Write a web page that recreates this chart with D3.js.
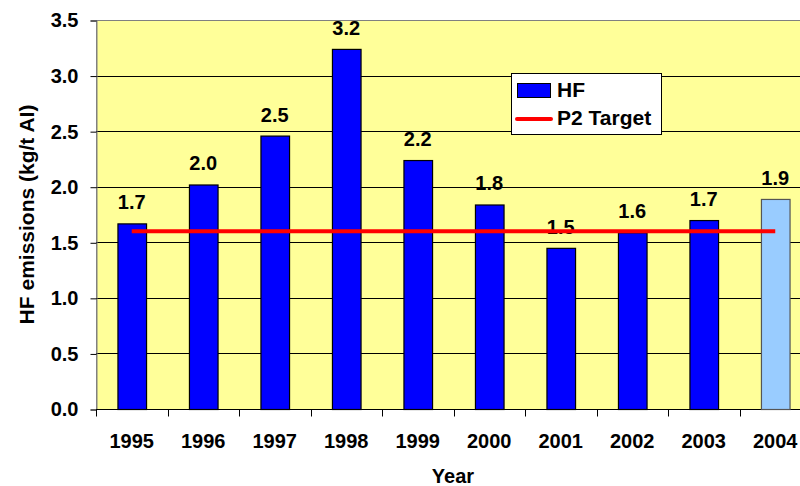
<!DOCTYPE html>
<html>
<head>
<meta charset="utf-8">
<script src="https://cdn.jsdelivr.net/npm/d3@7"></script>
<style>
  body { margin: 0; background: #fff; }
  svg { display: block; font-family: "Liberation Sans", Arial, sans-serif; font-weight: bold; }
</style>
</head>
<body>
<div id="chart"></div>
<script>
// HF emissions by year, with the P2 target line
const years = ['1995', '1996', '1997', '1998', '1999', '2000', '2001', '2002', '2003', '2004'];
const hfValues = [1.67, 2.02, 2.46, 3.24, 2.24, 1.84, 1.45, 1.59, 1.70, 1.89];
const hfLabels = ['1.7', '2.0', '2.5', '3.2', '2.2', '1.8', '1.5', '1.6', '1.7', '1.9'];
const targetValues = [1.6, 1.6, 1.6, 1.6, 1.6, 1.6, 1.6, 1.6, 1.6, 1.6];
const yTicks = [0, 0.5, 1.0, 1.5, 2.0, 2.5, 3.0, 3.5];
const highlightYear = '2004';

const width = 800, height = 486;
const margin = { top: 20, right: -11, bottom: 77, left: 96 };

const svg = d3.select('#chart')
    .append('svg')
    .attr('width', width)
    .attr('height', height);

const x = d3.scaleBand()
    .domain(years)
    .range([margin.left, width - margin.right])
    .paddingInner(0.6)
    .paddingOuter(0.3);

const y = d3.scaleLinear()
    .domain([0, 3.5])
    .range([height - margin.bottom, margin.top]);

const plotRight = width - margin.right;
const plotBottom = height - margin.bottom;

// plot background
svg.append('rect')
    .attr('x', margin.left + 0.5)
    .attr('y', margin.top + 0.5)
    .attr('width', plotRight - margin.left)
    .attr('height', plotBottom - margin.top)
    .attr('fill', '#FFFF99')
    .attr('stroke', '#808080')
    .attr('stroke-width', 1);

// gridlines
svg.append('g')
    .selectAll('line')
    .data(yTicks.filter(d => d > 0 && d < 3.5))
    .join('line')
    .attr('x1', margin.left)
    .attr('x2', plotRight)
    .attr('y1', d => Math.round(y(d)) + 0.5)
    .attr('y2', d => Math.round(y(d)) + 0.5)
    .attr('stroke', '#000')
    .attr('stroke-width', 1);

// y axis
const yAxis = svg.append('g')
    .attr('transform', `translate(${margin.left + 0.5},0.5)`)
    .call(d3.axisLeft(y).tickValues(yTicks).tickFormat(d3.format('.1f')).tickSize(6).tickPadding(12));
yAxis.select('.domain').attr('stroke', '#808080');
yAxis.selectAll('.tick line').attr('stroke', '#000');
yAxis.selectAll('.tick text')
    .attr('font-size', '20px')
    .attr('font-family', '"Liberation Sans", Arial, sans-serif')
    .attr('font-weight', 'bold')
    .attr('fill', '#000');

// x axis: ticks between categories
const xAxis = svg.append('g')
    .attr('transform', `translate(0,${plotBottom + 0.5})`);
xAxis.append('line')
    .attr('x1', margin.left)
    .attr('x2', plotRight)
    .attr('stroke', '#000');
xAxis.selectAll('.tick')
    .data(years)
    .join('line')
    .attr('class', 'tick')
    .attr('x1', d => Math.round(x(d) - x.step() * 0.3) + 0.5)
    .attr('x2', d => Math.round(x(d) - x.step() * 0.3) + 0.5)
    .attr('y1', 0)
    .attr('y2', 7)
    .attr('stroke', '#000');
xAxis.selectAll('text')
    .data(years)
    .join('text')
    .attr('x', d => x(d) + x.bandwidth() / 2)
    .attr('y', 38)
    .attr('text-anchor', 'middle')
    .attr('font-size', '20px')
    .attr('fill', '#000')
    .text(d => d);

// bars
svg.append('g')
    .selectAll('rect')
    .data(years)
    .join('rect')
    .attr('x', d => x(d) + 0.5)
    .attr('y', (d, i) => y(hfValues[i]) + 0.5)
    .attr('width', x.bandwidth())
    .attr('height', (d, i) => plotBottom - y(hfValues[i]))
    .attr('fill', d => d === highlightYear ? '#99CCFF' : '#0000FF')
    .attr('stroke', d => d === highlightYear ? '#555' : '#000')
    .attr('stroke-width', 1.2);

// value labels
svg.append('g')
    .selectAll('text')
    .data(years)
    .join('text')
    .attr('x', d => x(d) + x.bandwidth() / 2)
    .attr('y', (d, i) => y(hfValues[i]) - 14)
    .attr('text-anchor', 'middle')
    .attr('font-size', '20px')
    .attr('fill', '#000')
    .text((d, i) => hfLabels[i]);

// P2 target line
const line = d3.line()
    .x((d, i) => x(years[i]) + x.bandwidth() / 2)
    .y(d => y(d));
svg.append('path')
    .datum(targetValues)
    .attr('d', line)
    .attr('fill', 'none')
    .attr('stroke', '#FF0000')
    .attr('stroke-width', 4);

// axis titles
svg.append('text')
    .attr('transform', `translate(34,${(margin.top + plotBottom) / 2}) rotate(-90)`)
    .attr('text-anchor', 'middle')
    .attr('font-size', '21px')
    .attr('fill', '#000')
    .text('HF emissions (kg/t AI)');

svg.append('text')
    .attr('x', 453)
    .attr('y', 483)
    .attr('text-anchor', 'middle')
    .attr('font-size', '20px')
    .attr('fill', '#000')
    .text('Year');

// legend
const legend = svg.append('g').attr('transform', 'translate(511,73)');
legend.append('rect')
    .attr('x', 0.5).attr('y', 0.5)
    .attr('width', 150).attr('height', 61)
    .attr('fill', '#fff')
    .attr('stroke', '#000');
legend.append('rect')
    .attr('x', 6.5).attr('y', 10.5)
    .attr('width', 33).attr('height', 14)
    .attr('fill', '#0000FF')
    .attr('stroke', '#000');
legend.append('text')
    .attr('x', 46).attr('y', 24)
    .attr('font-size', '21px')
    .attr('fill', '#000')
    .text('HF');
legend.append('line')
    .attr('x1', 6).attr('x2', 40)
    .attr('y1', 46).attr('y2', 46)
    .attr('stroke', '#FF0000')
    .attr('stroke-width', 4)
    .attr('stroke-linecap', 'round');
legend.append('text')
    .attr('x', 46).attr('y', 52)
    .attr('font-size', '21px')
    .attr('fill', '#000')
    .text('P2 Target');
</script>
</body>
</html>
